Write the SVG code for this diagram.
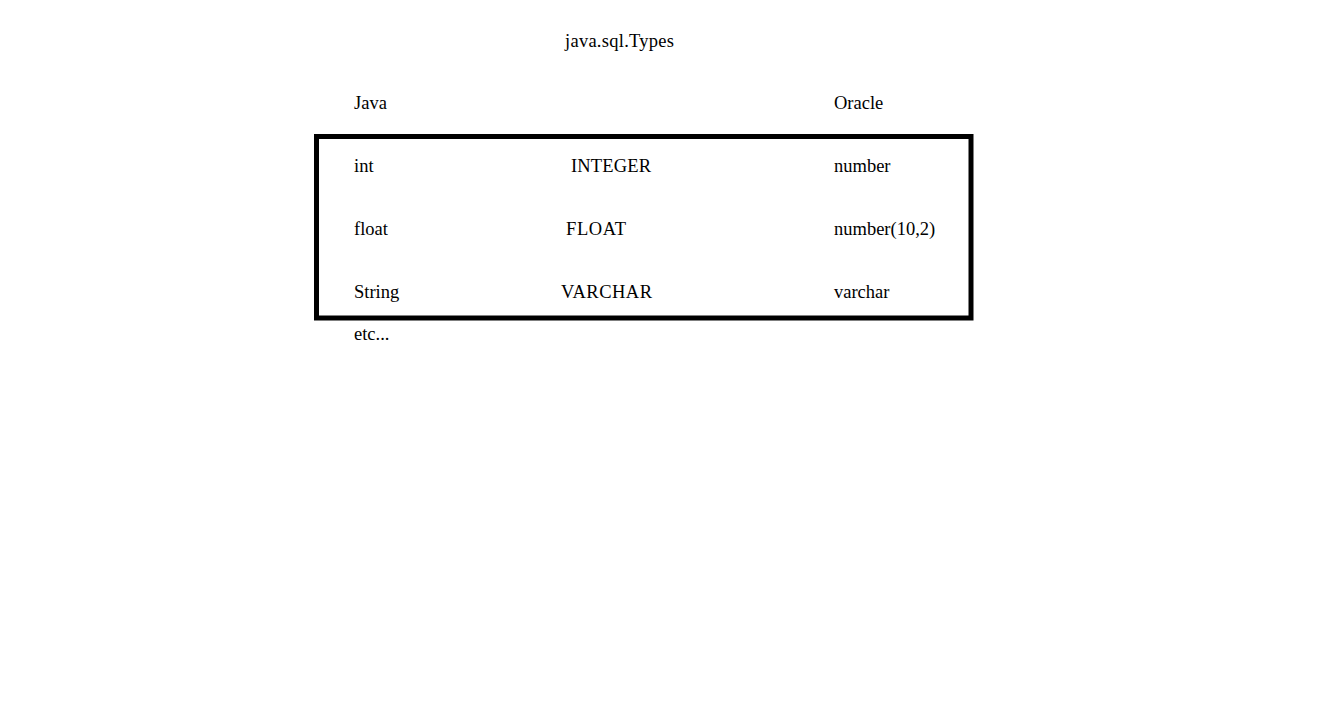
<svg xmlns="http://www.w3.org/2000/svg" width="1341" height="712" viewBox="0 0 1341 712">
<style>
text{font-family:"Liberation Serif","Times New Roman",serif;font-size:18.5px;fill:#000}
.box{fill:none;stroke:#000;stroke-width:5}
</style>
<rect width="1341" height="712" fill="#fff"/>
<g id="title"><text x="565" y="47" textLength="109" lengthAdjust="spacing">java.sql.Types</text></g>
<g id="headers">
<text x="354" y="109">Java</text>
<text x="834" y="109">Oracle</text>
</g>
<g id="table">
<rect class="box" x="316.5" y="136.5" width="654.5" height="181.5"/>
<g id="row-int">
<text x="354" y="172">int</text>
<text x="571" y="172" textLength="80" lengthAdjust="spacing">INTEGER</text>
<text x="834" y="172">number</text>
</g>
<g id="row-float">
<text x="354" y="235">float</text>
<text x="566" y="235" textLength="60" lengthAdjust="spacing">FLOAT</text>
<text x="834" y="235">number(10,2)</text>
</g>
<g id="row-string">
<text x="354" y="298">String</text>
<text x="561" y="298" textLength="91" lengthAdjust="spacing">VARCHAR</text>
<text x="834" y="298">varchar</text>
</g>
</g>
<g id="footer"><text x="354" y="340">etc...</text></g>
</svg>
